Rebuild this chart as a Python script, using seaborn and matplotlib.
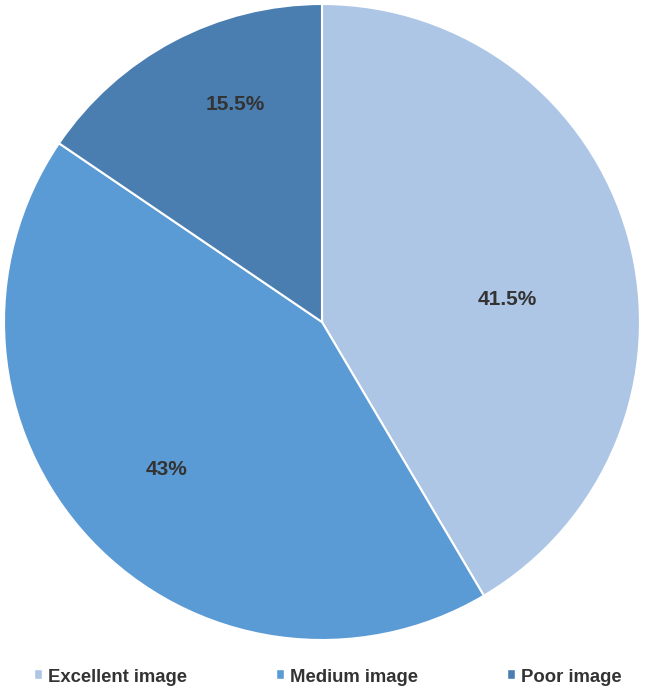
import numpy as np
import matplotlib
matplotlib.use('Agg')
import matplotlib.pyplot as plt
import seaborn as sns

# data
categories = ['Excellent image', 'Medium image', 'Poor image']
shares = [41.5, 43.0, 15.5]
pct_labels = ['41.5%', '43%', '15.5%']
colors = ['#AEC6E6', '#5B9BD5', '#4A7EB1']

# label placement (radius fraction, angle shift from wedge middle in deg)
label_radius = [0.586, 0.672, 0.738]
label_shift = [-8.5, 0.3, -6.1]

sns.set_theme(style='white')
plt.rcParams['font.family'] = ['Liberation Sans', 'DejaVu Sans']

fig = plt.figure(figsize=(6.45, 6.93), dpi=100)
ax = fig.add_axes([4 / 645, 53 / 693, 636 / 645, 636 / 693])

wedges, _ = ax.pie(shares, colors=colors, startangle=90, counterclock=False,
                   wedgeprops=dict(edgecolor='white', linewidth=1.5))
ax.set_xlim(-1.0, 1.0)
ax.set_ylim(-1.0, 1.0)
ax.set_aspect('equal')

for w, lab, r, s in zip(wedges, pct_labels, label_radius, label_shift):
    mid = np.deg2rad((w.theta1 + w.theta2) / 2 + s)
    ax.text(r * np.cos(mid), r * np.sin(mid), lab, ha='center', va='center',
            fontsize=15, fontweight='bold', color='#333333')

leg = fig.legend(wedges, categories, loc='center left', ncol=3,
                 bbox_to_anchor=(35 / 645, 16 / 693), frameon=False,
                 borderpad=0, borderaxespad=0,
                 handlelength=0.38, handleheight=0.38, handletextpad=0.3,
                 columnspacing=4.9, prop=dict(size=13.3, weight='bold'))
for t in leg.get_texts():
    t.set_color('#333333')
for h in leg.legend_handles:
    h.set_edgecolor('white')
    h.set_linewidth(0.3)

fig.savefig('out.png', dpi=100)
